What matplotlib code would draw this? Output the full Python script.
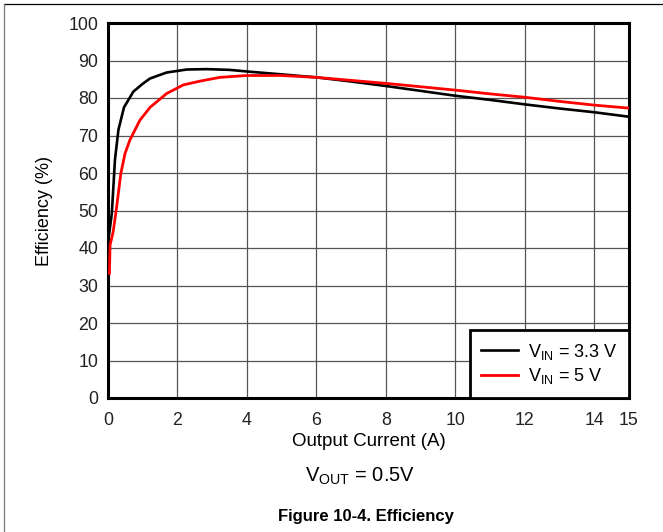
import matplotlib
matplotlib.use("Agg")
import matplotlib.pyplot as plt
from matplotlib.lines import Line2D

plt.rcParams["font.family"] = ["Liberation Sans", "DejaVu Sans"]
plt.rcParams["mathtext.fontset"] = "custom"
plt.rcParams["mathtext.rm"] = "Liberation Sans"

# efficiency curves
current_33 = [0.03, 0.11, 0.2, 0.3, 0.46, 0.73, 1.0, 1.21, 1.69, 2.27, 2.84, 3.5,
              4.09, 5.0, 6.0, 7.0, 8.0, 9.0, 10.0, 11.0, 12.0, 13.0, 14.0, 15.0]
eff_33 = [43.5, 49.2, 63.5, 71.5, 77.5, 81.7, 83.8, 85.2, 86.8, 87.6, 87.7, 87.5,
          87.0, 86.3, 85.5, 84.4, 83.2, 81.9, 80.6, 79.5, 78.3, 77.2, 76.2, 75.0]

current_5 = [0.04, 0.06, 0.15, 0.25, 0.37, 0.49, 0.63, 0.92, 1.21, 1.69, 2.17, 2.65,
             3.22, 4.0, 5.0, 6.0, 7.0, 8.0, 9.0, 10.0, 11.0, 12.0, 13.0, 14.0, 15.0]
eff_5 = [33.2, 40.8, 44.4, 51.0, 59.9, 65.2, 68.8, 74.1, 77.5, 81.2, 83.5, 84.5,
         85.5, 86.0, 86.0, 85.5, 84.7, 83.9, 83.0, 82.1, 81.1, 80.2, 79.1, 78.1, 77.3]

x_ticks = [0, 2, 4, 6, 8, 10, 12, 14, 15]
y_ticks = list(range(0, 101, 10))

fig = plt.figure(figsize=(6.63, 5.32), dpi=100)
ax = fig.add_axes([108 / 663, 1 - 398 / 532, 521 / 663, 375 / 532])

ax.plot(current_33, eff_33, color="black", lw=1.9, label=r"V$_{\mathregular{IN}}$ = 3.3 V", zorder=3)
ax.plot(current_5, eff_5, color="#ff0000", lw=2.0, label=r"V$_{\mathregular{IN}}$ = 5 V", zorder=3)

ax.set_xlim(0, 15)
ax.set_ylim(0, 100)
ax.set_xticks(x_ticks)
ax.set_yticks(y_ticks)
ax.tick_params(axis="both", length=0, labelsize=12.8, colors="#222222")
ax.tick_params(axis="x", pad=10)
ax.tick_params(axis="y", pad=7)
ax.grid(True, color="#555555", lw=0.9)
for s in ax.spines.values():
    s.set_linewidth(2.2)
    s.set_color("black")

ax.set_xlabel("Output Current (A)", fontsize=13.5, labelpad=3)
ax.set_ylabel("Efficiency (%)", fontsize=13, labelpad=11)

leg = ax.legend(loc="lower right", borderaxespad=0, fancybox=False, fontsize=13,
                handlelength=2.0, handletextpad=0.55, labelspacing=0.25,
                borderpad=0.65, framealpha=1)
leg.get_frame().set_edgecolor("black")
leg.get_frame().set_linewidth(2.0)
leg.set_zorder(5)

fig.text(360 / 663, 1 - 476 / 532, r"V$_{\mathregular{OUT}}$ = 0.5V", ha="center", va="center", fontsize=14.5)
fig.text(366 / 663, 1 - 517 / 532, "Figure 10-4. Efficiency", ha="center", va="center",
         fontsize=12, fontweight="bold")

# page frame lines
fig.add_artist(Line2D([4 / 663, 1], [1 - 4 / 532, 1 - 4 / 532], transform=fig.transFigure, color="black", lw=0.9))
fig.add_artist(Line2D([4 / 663, 4 / 663], [0, 1 - 4 / 532], transform=fig.transFigure, color="#777777", lw=0.9))

fig.savefig("out.png", dpi=100)
